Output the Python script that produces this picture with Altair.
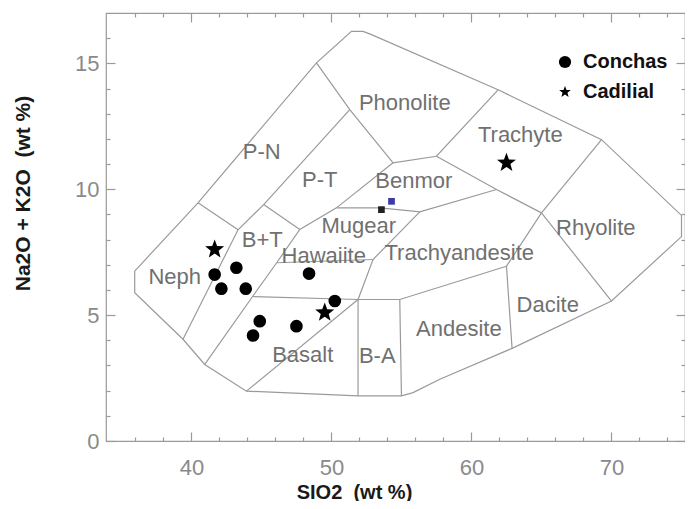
import altair as alt
import pandas as pd

# ---- scale ranges ----
x_domain = [33.9, 75.25]
y_domain = [0, 17]
x_major = [40, 50, 60, 70]
x_minor = [36, 38, 42, 44, 46, 48, 52, 54, 56, 58, 62, 64, 66, 68, 72, 74]
y_major = [0, 5, 10, 15]
y_minor = [1, 2, 3, 4, 6, 7, 8, 9, 11, 12, 13, 14, 16]

# ---- TAS field boundaries (SiO2, Na2O+K2O) ----
outer_x = [35.95, 40.47, 48.93, 51.43, 52.26, 52.86, 61.90, 69.29, 75.00, 75.00, 70.00,
           62.90, 57.74, 55.83, 55.00, 51.90, 43.93, 40.95, 39.40, 35.95, 35.95]
outer_y = [6.75, 9.46, 15.02, 16.27, 16.27, 16.14, 13.95, 11.97, 8.96, 8.12, 5.56,
           3.68, 2.45, 1.92, 1.79, 1.79, 1.98, 3.04, 4.04, 5.89, 6.75]
neph_top_x = [40.47, 43.33]
neph_top_y = [9.46, 8.39]
neph_bt_x = [39.40, 43.33, 45.16, 51.31]
neph_bt_y = [4.04, 8.39, 9.39, 13.16]
pt_base_x = [45.16, 47.74]
pt_base_y = [9.39, 8.40]
bt_right_x = [40.95, 44.37, 46.09, 47.74, 50.36, 54.40]
bt_right_y = [3.04, 5.74, 7.08, 8.40, 9.26, 11.05]
phon_base_x = [48.93, 51.31, 54.40, 57.50, 61.90]
phon_base_y = [15.02, 13.16, 11.05, 11.31, 13.95]
trach_base_x = [57.50, 61.79, 65.00]
trach_base_y = [11.31, 9.99, 9.06]
trach_rhy_x = [69.29, 65.00]
trach_rhy_y = [11.97, 9.06]
rhy_dac_x = [65.00, 70.00]
rhy_dac_y = [9.06, 5.56]
dac_left_x = [65.00, 62.50, 62.90]
dac_left_y = [9.06, 6.94, 3.68]
and_top_x = [62.50, 54.88, 51.90, 44.37]
and_top_y = [6.94, 5.62, 5.62, 5.74]
ba_left_x = [51.90, 51.90]
ba_left_y = [5.62, 1.79]
ba_right_x = [54.88, 55.00]
ba_right_y = [5.62, 1.79]
bas_split_x = [43.93, 51.90]
bas_split_y = [1.98, 5.62]
haw_top_x = [46.09, 52.97]
haw_top_y = [7.08, 7.21]
mug_right_x = [51.90, 52.97, 56.31]
mug_right_y = [5.62, 7.21, 9.10]
ben_base_x = [50.36, 53.45, 55.83, 56.31, 61.79]
ben_base_y = [9.26, 9.26, 9.13, 9.10, 9.99]

segments = {
    "outer": (outer_x, outer_y), "neph_top": (neph_top_x, neph_top_y),
    "neph_bt": (neph_bt_x, neph_bt_y), "pt_base": (pt_base_x, pt_base_y),
    "bt_right": (bt_right_x, bt_right_y), "phon_base": (phon_base_x, phon_base_y),
    "trach_base": (trach_base_x, trach_base_y), "trach_rhy": (trach_rhy_x, trach_rhy_y),
    "rhy_dac": (rhy_dac_x, rhy_dac_y), "dac_left": (dac_left_x, dac_left_y),
    "and_top": (and_top_x, and_top_y), "ba_left": (ba_left_x, ba_left_y),
    "ba_right": (ba_right_x, ba_right_y), "bas_split": (bas_split_x, bas_split_y),
    "haw_top": (haw_top_x, haw_top_y), "mug_right": (mug_right_x, mug_right_y),
    "ben_base": (ben_base_x, ben_base_y),
}

# ---- field names ----
field_names = ["Phonolite", "P-N", "P-T", "Trachyte", "Benmor", "Mugear", "B+T", "Hawaiite",
               "Trachyandesite", "Rhyolite", "Neph", "Dacite", "Andesite", "B-A", "Basalt"]
field_x = [55.24, 45.02, 49.16, 63.49, 55.88, 51.95, 45.06, 49.45,
           59.13, 68.88, 38.81, 65.45, 59.10, 53.27, 47.95]
field_y = [13.44, 11.46, 10.38, 12.17, 10.31, 8.53, 8.00, 7.34,
           7.48, 8.48, 6.50, 5.42, 4.43, 3.37, 3.40]

# ---- samples ----
series_names = ["Conchas", "Cadilial"]
conchas_x = [43.21, 41.66, 42.14, 43.88, 44.88, 44.40, 47.50, 48.40, 50.24]
conchas_y = [6.88, 6.61, 6.05, 6.05, 4.76, 4.19, 4.56, 6.65, 5.56]
cadilial_x = [41.66, 49.52, 62.50]
cadilial_y = [7.61, 5.10, 11.05]
extra_x = [53.57, 54.29]
extra_y = [9.19, 9.52]
extra_color = ["#222222", "#3a3aa8"]

rows = []
for name, (xs_, ys_) in segments.items():
    for i, (a, b) in enumerate(zip(xs_, ys_)):
        rows.append({"seg": name, "ord": i, "x": a, "y": b})
lines_df = pd.DataFrame(rows)
labels_df = pd.DataFrame({"name": field_names, "x": field_x, "y": field_y})
pts_df = pd.DataFrame({
    "x": conchas_x + cadilial_x,
    "y": conchas_y + cadilial_y,
    "series": [series_names[0]] * len(conchas_x) + [series_names[1]] * len(cadilial_x),
})
extra_df = pd.DataFrame({"x": extra_x, "y": extra_y, "c": extra_color})

STAR = ("M0,-1 L0.247,-0.34 L0.951,-0.309 L0.399,0.13 L0.588,0.809 L0,0.42 "
        "L-0.588,0.809 L-0.399,0.13 L-0.951,-0.309 L-0.247,-0.34 Z")

FONT = "Liberation Sans"
GRAY = "#9a9a9a"
xs = alt.Scale(domain=x_domain, nice=False, zero=False)
ys = alt.Scale(domain=y_domain, nice=False, zero=False)


def xaxis(orient, values, size, labels, **kw):
    return alt.Axis(orient=orient, values=values, tickSize=size, offset=-size, domain=False,
                    grid=False, labels=labels, tickColor=GRAY, tickWidth=1.2, **kw)


ax_bottom = xaxis("bottom", x_major, 9, True, labelFontSize=22, labelFont=FONT,
                  labelColor="#8a8a8a", labelPadding=16, format="d",
                  title="SIO2\u00a0 (wt %)", titleFont=FONT, titleFontSize=20,
                  titleFontWeight="bold", titleColor="#1a1a1a", titleX=248, titleY=60,
                  titleAlign="center", titleBaseline="middle")
ay_left = xaxis("left", y_major, 9, True, labelFontSize=22, labelFont=FONT,
                labelColor="#8a8a8a", labelPadding=7, format="d",
                title="Na2O + K2O\u00a0 (wt %)", titleFont=FONT, titleFontSize=21,
                titleFontWeight="bold", titleColor="#1a1a1a", titleX=-92, titleY=180,
                titleAngle=270, titleAlign="center", titleBaseline="middle")
ax_bottom_minor = xaxis("bottom", x_minor, 4, False, title=None)
ay_left_minor = xaxis("left", y_minor, 4, False, title=None)
ax_top = xaxis("top", x_major, 9, False, title=None)
ay_right = xaxis("right", y_major, 9, False, title=None)
ax_top_minor = xaxis("top", x_minor, 4, False, title=None)
ay_right_minor = xaxis("right", y_minor, 4, False, title=None)

base = alt.Chart(lines_df)
lines = base.mark_line(color=GRAY, strokeWidth=1.2).encode(
    x=alt.X("x:Q", scale=xs, axis=ax_bottom),
    y=alt.Y("y:Q", scale=ys, axis=ay_left),
    detail="seg:N", order="ord:Q")


def ghost(ax, ay):
    return base.mark_point(opacity=0).encode(
        x=alt.X("x:Q", scale=xs, axis=ax), y=alt.Y("y:Q", scale=ys, axis=ay))


texts = alt.Chart(labels_df).mark_text(font=FONT, fontSize=22, color="#707070").encode(
    x=alt.X("x:Q", scale=xs, axis=None), y=alt.Y("y:Q", scale=ys, axis=None), text="name:N")

points = alt.Chart(pts_df).mark_point(filled=True, opacity=1, color="black").encode(
    x=alt.X("x:Q", scale=xs, axis=None), y=alt.Y("y:Q", scale=ys, axis=None),
    shape=alt.Shape("series:N", scale=alt.Scale(domain=series_names, range=["circle", STAR]),
                    legend=alt.Legend(title=None, orient="none", legendX=449, legendY=39,
                                      labelFont=FONT, labelFontSize=20, labelFontWeight="bold",
                                      labelColor="#111111", symbolSize=150,
                                      symbolFillColor="black", symbolStrokeWidth=0,
                                      symbolStrokeColor="black",
                                      rowPadding=10, labelOffset=8, padding=0)),
    size=alt.condition("datum.series == 'Cadilial'", alt.value(400), alt.value(160)))

extras = alt.Chart(extra_df).mark_point(filled=True, shape="square", size=45, opacity=1).encode(
    x=alt.X("x:Q", scale=xs, axis=None), y=alt.Y("y:Q", scale=ys, axis=None),
    color=alt.Color("c:N", scale=None))

chart = alt.layer(
    lines,
    ghost(ax_bottom_minor, ay_left_minor),
    ghost(ax_top, ay_right),
    ghost(ax_top_minor, ay_right_minor),
    texts, points, extras,
).resolve_axis(x="independent", y="independent").properties(
    width=579, height=428,
    padding={"left": 98, "top": 5, "right": 0, "bottom": 60},
    autosize=alt.AutoSizeParams(type="none"),
).configure_view(stroke=GRAY, strokeWidth=1.2)

chart.save("out.html", embed_options={"renderer": "svg", "actions": False})
